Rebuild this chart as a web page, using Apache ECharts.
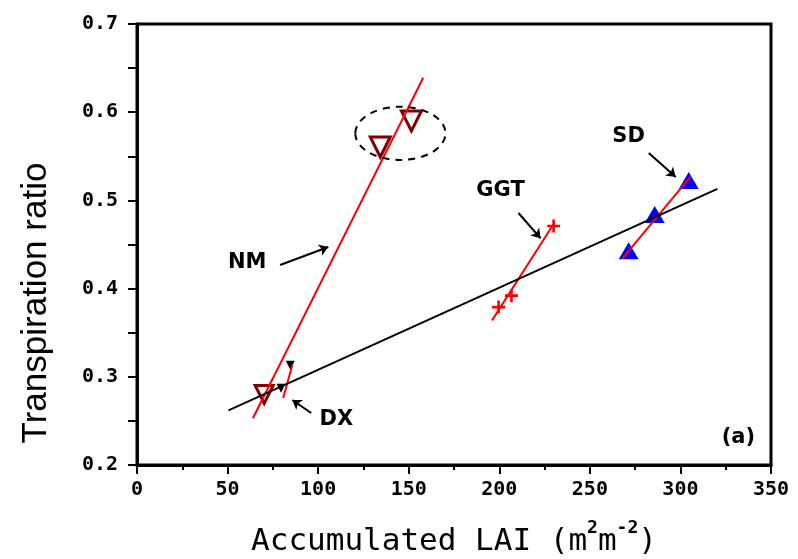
<!DOCTYPE html>
<html>
<head>
<meta charset="utf-8">
<script src="https://cdn.jsdelivr.net/npm/echarts@6/dist/echarts.min.js"></script>
<style>
  html, body { margin: 0; padding: 0; background: #fff; }
  #main { width: 798px; height: 559px; }
</style>
</head>
<body>
<div id="main"></div>
<script>
// regression line through all sites
const regLAI = [50.5, 320.4];
const regRatio = [0.262, 0.513];

// NM
const nmLineLAI = [64, 158];
const nmLineRatio = [0.253, 0.639];
const nmLAI = [134.3, 151.5];
const nmRatio = [0.5605, 0.59];

// DX
const dxLineLAI = [80.7, 85.7];
const dxLineRatio = [0.276, 0.313];
const dxLAI = [70.2];
const dxRatio = [0.28];
const dxBlackLAI = [79.5, 84.6];
const dxBlackRatio = [0.287, 0.313];

// GGT
const ggtLineLAI = [196, 230.5];
const ggtLineRatio = [0.364, 0.475];
const ggtLAI = [199.6, 206.7, 230];
const ggtRatio = [0.379, 0.392, 0.471];

// SD
const sdLineLAI = [267.9, 305.6];
const sdLineRatio = [0.434, 0.527];
const sdLAI = [271.4, 285.8, 304.6];
const sdRatio = [0.443, 0.484, 0.5226];

// annotations
const labelNames = ['NM', 'DX', 'GGT', 'SD', '(a)'];
const labelLAI = [60.8, 110, 200.7, 271.4, 332];
const labelRatio = [0.429, 0.252, 0.5107, 0.572, 0.2306];
const arrowFrom = [[79, 0.4268], [96.2, 0.259], [210.6, 0.4857], [282.5, 0.5537]];
const arrowTo = [[105.6, 0.4472], [85.7, 0.2737], [222.8, 0.457], [297.4, 0.5265]];
const ringCenter = [145.4, 0.576];
const ringRadius = [24.9, 0.0302];

const pairs = (xs, ys) => xs.map((x, i) => [x, ys[i]]);
const crossPath = 'path://M4,0H6V4H10V6H6V10H4V6H0V4H4Z';
const tickFont = { fontFamily: 'DejaVu Sans Mono', fontWeight: 'bold', fontSize: 20, color: '#000' };

const redLine = (xs, ys) => ({
  type: 'line', data: pairs(xs, ys), symbol: 'none', z: 3,
  lineStyle: { color: '#ff0000', width: 2 }
});

const chart = echarts.init(document.getElementById('main'));
chart.setOption({
  animation: false,
  grid: {
    left: 137, right: 27, top: 24, bottom: 94, outerBoundsMode: 'none',
    show: true, borderColor: '#000', borderWidth: 3
  },
  xAxis: {
    type: 'value', min: 0, max: 350, interval: 50,
    name: '{t|Accumulated LAI (m}{s|2}{t|m}{s|-2}{t|)}',
    nameLocation: 'middle', nameGap: 54,
    nameTextStyle: {
      rich: {
        t: { fontFamily: 'DejaVu Sans Mono', fontSize: 31, color: '#000' },
        s: { fontFamily: 'DejaVu Sans Mono', fontWeight: 'bold', fontSize: 18, color: '#000', padding: [0, 0, 28, 0] }
      }
    },
    axisLine: { lineStyle: { color: '#000', width: 3 } },
    axisTick: { length: 9, lineStyle: { color: '#000', width: 2 } },
    minorTick: { show: true, splitNumber: 2, length: 5, lineStyle: { color: '#000', width: 2 } },
    axisLabel: Object.assign({ margin: 15 }, tickFont),
    splitLine: { show: false }
  },
  yAxis: {
    type: 'value', min: 0.2, max: 0.7, interval: 0.1,
    axisLine: { show: true, lineStyle: { color: '#000', width: 3 } },
    axisTick: { show: true, length: 9, lineStyle: { color: '#000', width: 2 } },
    minorTick: { show: true, splitNumber: 2, length: 9, lineStyle: { color: '#000', width: 2 } },
    axisLabel: Object.assign({ margin: 19, formatter: v => v.toFixed(1) }, tickFont),
    splitLine: { show: false }
  },
  graphic: [{
    type: 'text', x: 36, y: 303, rotation: Math.PI / 2,
    style: {
      text: 'Transpiration ratio', fontFamily: 'Liberation Sans', fontSize: 35,
      fill: '#000', align: 'center', verticalAlign: 'middle'
    }
  }],
  series: [
    {
      type: 'scatter', data: pairs(nmLAI, nmRatio), z: 2,
      symbol: 'triangle', symbolRotate: 180, symbolSize: 20,
      itemStyle: { color: '#fff', borderColor: '#800000', borderWidth: 3, opacity: 1 }
    },
    {
      type: 'scatter', data: pairs(dxLAI, dxRatio), z: 2,
      symbol: 'triangle', symbolRotate: 180, symbolSize: 18,
      itemStyle: { color: '#fff', borderColor: '#800000', borderWidth: 3, opacity: 1 }
    },
    {
      type: 'scatter', data: pairs(dxBlackLAI, dxBlackRatio), z: 2,
      symbol: 'triangle', symbolRotate: 180, symbolSize: 9,
      itemStyle: { color: '#000', opacity: 1 }
    },
    {
      type: 'scatter', data: pairs(ggtLAI, ggtRatio), z: 2,
      symbol: crossPath, symbolSize: 13,
      itemStyle: { color: '#ff0000', opacity: 1 }
    },
    {
      type: 'scatter', data: pairs(sdLAI, sdRatio), z: 2,
      symbol: 'triangle', symbolSize: [20, 17],
      itemStyle: { color: '#0000ff', opacity: 1 }
    },
    redLine(nmLineLAI, nmLineRatio),
    redLine(dxLineLAI, dxLineRatio),
    redLine(ggtLineLAI, ggtLineRatio),
    redLine(sdLineLAI, sdLineRatio),
    {
      type: 'line', data: pairs(regLAI, regRatio), symbol: 'none', z: 4,
      lineStyle: { color: '#000', width: 2 }
    },
    {
      type: 'scatter', z: 5, symbolSize: 1, itemStyle: { color: '#fff', opacity: 0 },
      data: labelNames.map((n, i) => ({ name: n, value: [labelLAI[i], labelRatio[i]] })),
      label: {
        show: true, position: 'inside', formatter: '{b}', opacity: 1,
        fontFamily: 'DejaVu Sans', fontWeight: 'bold', fontSize: 21, color: '#000'
      }
    },
    {
      type: 'line', data: [], z: 5,
      markLine: {
        silent: true, symbol: ['none', 'arrow'], symbolSize: 9,
        label: { show: false },
        lineStyle: { color: '#000', width: 2, type: 'solid', opacity: 1 },
        data: arrowFrom.map((f, i) => [{ coord: f }, { coord: arrowTo[i] }])
      }
    },
    {
      type: 'custom', z: 5,
      data: [ringCenter.concat(ringRadius)],
      renderItem: (params, api) => {
        const c = api.coord([api.value(0), api.value(1)]);
        const s = api.size([api.value(2), api.value(3)]);
        const rx = s[0], ry = s[1];
        return {
          type: 'path',
          shape: {
            pathData: `M${c[0] - rx},${c[1]} A${rx},${ry} 0 1 0 ${c[0] + rx},${c[1]} A${rx},${ry} 0 1 0 ${c[0] - rx},${c[1]} Z`
          },
          style: { fill: 'none', stroke: '#000', lineWidth: 2, lineDash: [7, 6] }
        };
      }
    }
  ]
});
</script>
</body>
</html>
